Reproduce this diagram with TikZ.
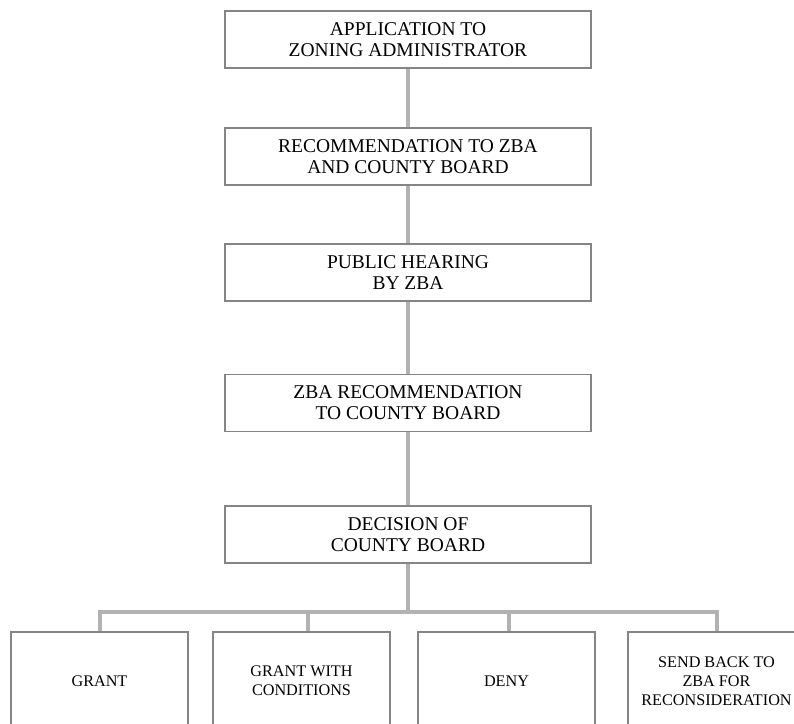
\documentclass[tikz,border=0pt]{standalone}
\usepackage{fontspec}
\setmainfont{Liberation Serif}
\begin{document}
\begin{tikzpicture}[x=1pt,y=-1pt,
	box/.style={draw=black!48,line width=1.1pt,minimum width=366pt,minimum height=57pt,align=center,inner sep=0pt,font=\fontsize{19.5}{21}\selectfont},
	endbox/.style={draw=black!48,line width=1.1pt,minimum width=177pt,minimum height=98pt,align=center,inner sep=0pt,font=\fontsize{16.2}{19}\selectfont},
	link/.style={draw=black!30,line width=4pt}]
						\useasboundingbox (0,0) rectangle (794,723);
						\clip (0,0) rectangle (794,723);
						% main boxes
						\node[box] (app) at (408,39.5) {APPLICATION TO\\ZONING ADMINISTRATOR};
						\node[box] (rec) at (408,156.5) {RECOMMENDATION TO ZBA\\AND COUNTY BOARD};
						\node[box] (hear) at (408,272.5) {PUBLIC HEARING\\BY ZBA};
						\node[box] (zba) at (408,403) {ZBA RECOMMENDATION\\TO COUNTY BOARD};
						\node[box] (dec) at (408,534.5) {DECISION OF\\COUNTY BOARD};
						% outcomes
						\node[endbox] (grant) at (99.5,681) {GRANT};
						\node[endbox] (cond) at (301.5,681) {GRANT WITH\\CONDITIONS};
						\node[endbox] (deny) at (506.5,681) {DENY};
						\node[endbox] (back) at (716.5,681) {SEND BACK TO\\ZBA FOR\\RECONSIDERATION};
						% connectors
						\path[link] (app) -- (rec);
						\path[link] (rec) -- (hear);
						\path[link] (hear) -- (zba);
						\path[link] (zba) -- (dec);
						\coordinate (bus) at (408,612);
						\path[link] (dec) -- (bus);
						\path[link] (grant.north) |- (bus) -| (back.north);
						\path[link] ([xshift=6pt]cond.north) -- ([xshift=6pt]cond.north |- bus);
						\path[link] ([xshift=2.5pt]deny.north) -- ([xshift=2.5pt]deny.north |- bus);
					\end{tikzpicture}
\end{document}
